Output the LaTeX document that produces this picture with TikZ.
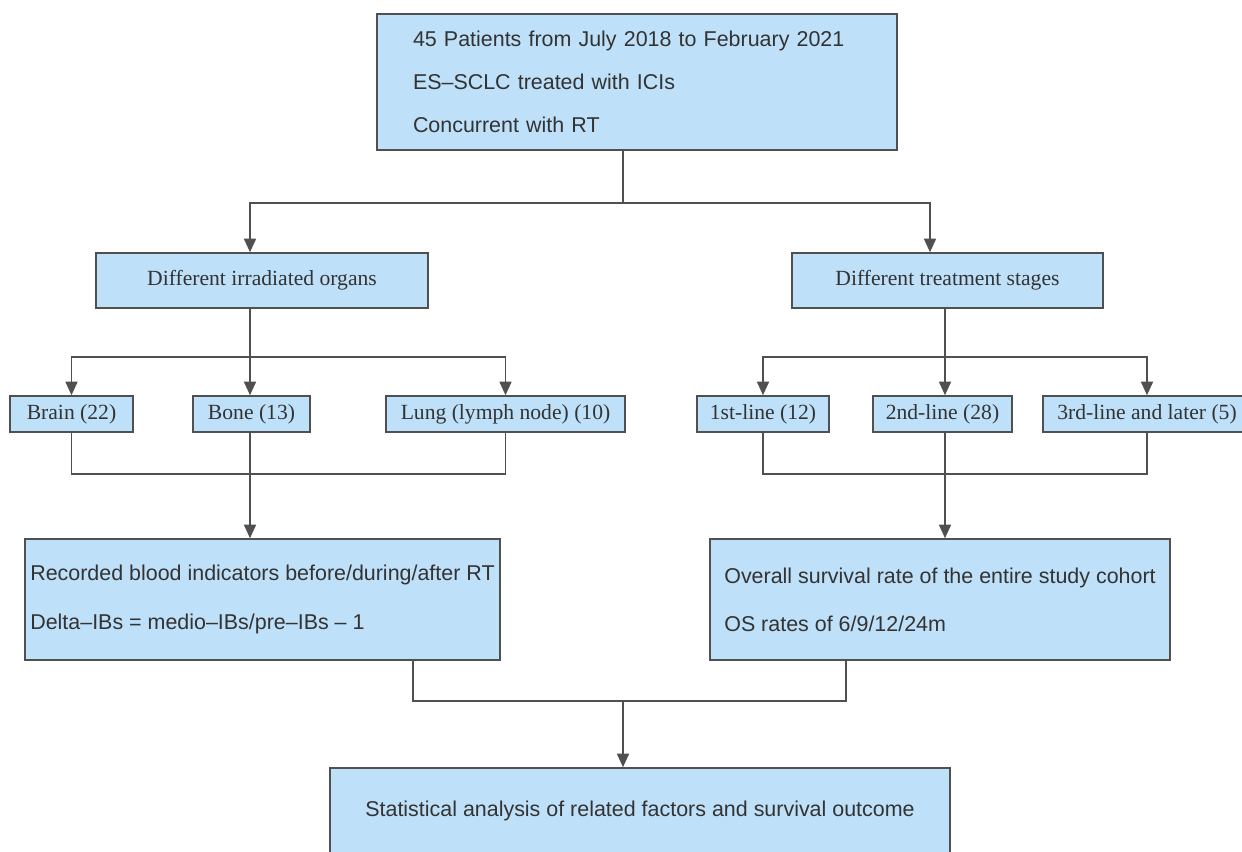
\documentclass[tikz,border=0pt]{standalone}
\usepackage{fontspec}
\setsansfont{Liberation Sans}
\newfontfamily\boxserif{Liberation Serif}
\usetikzlibrary{arrows.meta}

\definecolor{boxblue}{RGB}{190,224,248}
\definecolor{edgegray}{RGB}{80,80,80}
\definecolor{textgray}{RGB}{51,51,51}

\begin{document}
\begin{tikzpicture}[
  box/.style={draw=edgegray, line width=0.9pt, fill=boxblue, text=textgray, inner sep=0pt},
  sbox/.style={box, font=\boxserif\fontsize{12.3}{14}\selectfont, minimum height=0.72cm},
  tbox/.style={box, font=\sffamily\fontsize{12.2}{15}\selectfont, align=left},
  link/.style={draw=edgegray, line width=0.9pt},
  arr/.style={link, -{Triangle[length=0.27cm,width=0.24cm]}}
]

% Frame of the page
\useasboundingbox (0,0) rectangle (24.84,-17.04);
\clip (0,0) rectangle (24.84,-17.04);

% Top box
\node[tbox, text width=8.96cm, inner xsep=0.72cm, minimum height=2.72cm] (top) at (12.74,-1.64)
  {45 Patients from July 2018 to February 2021\\[9.3pt]
   ES\textendash SCLC treated with ICIs\\[9.3pt]
   Concurrent with RT};

% Two groups
\node[sbox, minimum width=6.64cm, minimum height=1.1cm] (organs) at (5.24,-5.61) {Different irradiated organs};
\node[sbox, minimum width=6.22cm, minimum height=1.1cm] (stages) at (18.95,-5.61) {Different treatment stages};

% Organs
\node[sbox, minimum width=2.46cm] (brain) at (1.43,-8.28) {Brain (22)};
\node[sbox, minimum width=2.34cm] (bone) at (5.03,-8.28) {Bone (13)};
\node[sbox, minimum width=4.78cm] (lung) at (10.11,-8.28) {Lung (lymph node) (10)};

% Treatment lines
\node[sbox, minimum width=2.64cm] (first) at (15.26,-8.28) {1st-line (12)};
\node[sbox, minimum width=2.78cm] (second) at (18.85,-8.28) {2nd-line (28)};
\node[sbox, minimum width=4.16cm] (third) at (22.94,-8.28) {3rd-line and later (5)};

% Outcome boxes
\node[tbox, minimum width=9.5cm, minimum height=2.42cm] (blood) at (5.25,-11.99)
  {Recorded blood indicators before/during/after RT\\[12.5pt]
   Delta\textendash IBs = medio\textendash IBs/pre\textendash IBs \textendash{} 1};
\node[tbox, minimum width=9.2cm, minimum height=2.42cm] (os) at (18.8,-11.99)
  {Overall survival rate of the entire study cohort\\[12.5pt]
   OS rates of 6/9/12/24m};
\node[tbox, minimum width=12.4cm, minimum height=1.72cm] (stat) at (12.8,-16.22)
  {Statistical analysis of related factors and survival outcome};

% Split points
\coordinate (s1) at (12.46,-4.06);
\coordinate (s2) at (5.0,-7.14);
\coordinate (s3) at (18.9,-7.14);
\coordinate (m1) at (5.0,-9.48);
\coordinate (m2) at (18.9,-9.48);
\coordinate (m3) at (12.46,-14.02);

% From top box to the two groups
\draw[link] (top.south -| s1) -- (s1);
\draw[arr] (s1) -| ([xshift=-0.24cm]organs.north);
\draw[arr] (s1) -| ([xshift=-0.35cm]stages.north);

% Organs branch
\draw[link] ([xshift=-0.24cm]organs.south) -- (s2);
\draw[arr] (s2) -| (brain);
\draw[arr] (s2) -| (lung);
\draw[arr] (s2) -- (bone.north -| s2);
\draw[link] (brain.south) -- (brain.south |- m1) -| (lung.south);
\draw[arr] (bone.south -| m1) -- (blood.north -| m1);

% Stages branch
\draw[link] ([xshift=-0.05cm]stages.south) -- (s3);
\draw[arr] (s3) -| (first);
\draw[arr] (s3) -| (third);
\draw[arr] (s3) -- (second.north -| s3);
\draw[link] (first.south) -- (first.south |- m2) -| (third.south);
\draw[arr] (second.south -| m2) -- (os.north -| m2);

% Join to the last box
\draw[link] ([xshift=3.01cm]blood.south) |- (m3);
\draw[link] ([xshift=-1.88cm]os.south) |- (m3);
\draw[arr] (m3) -- (stat.north -| m3);

\end{tikzpicture}
\end{document}
